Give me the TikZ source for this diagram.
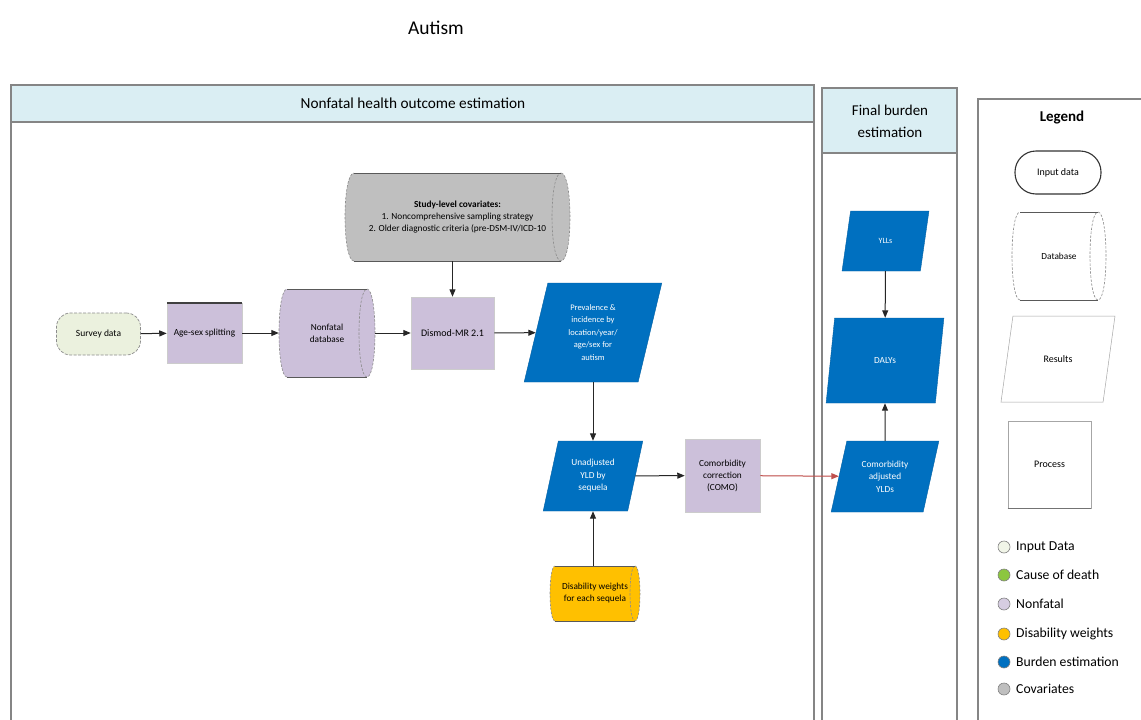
\documentclass[tikz,border=0pt]{standalone}
\usepackage{fontspec}
\setmainfont{Carlito}
\usetikzlibrary{shapes.geometric,arrows.meta}

\definecolor{hdrblue}{HTML}{DAEEF3}
\definecolor{framegray}{HTML}{858585}
\definecolor{inputgreen}{HTML}{EBF1DE}
\definecolor{nonfatal}{HTML}{CCC0DA}
\definecolor{covgray}{HTML}{BFBFBF}
\definecolor{burden}{HTML}{0070C0}
\definecolor{dwgold}{HTML}{FFC000}
\definecolor{codgreen}{HTML}{8CC63F}
\definecolor{linkred}{HTML}{C0504D}

\tikzset{
  frame/.style={draw=framegray, line width=1.1pt},
  hdr/.style={fill=hdrblue, draw=framegray, line width=1.1pt},
  flow/.style={-{Triangle[length=7.5pt,width=6pt]}, line width=1pt, draw=black!85},
  redflow/.style={-{Triangle[length=7.5pt,width=6pt]}, line width=1pt, draw=linkred, fill=linkred},
  procbox/.style={rectangle, fill=nonfatal, draw=black!20, line width=0.5pt,
    align=center, inner sep=1pt, font=\fontsize{9.3}{12}\selectfont},
  inputbox/.style={rectangle, rounded corners=14pt, fill=inputgreen,
    draw=black!45, dash pattern=on 3pt off 1.5pt, line width=0.7pt,
    align=center, font=\fontsize{9.5}{12}\selectfont},
  resbox/.style={trapezium, trapezium stretches=true, fill=burden,
    draw=burden!85!black, line width=0.4pt, text=white, align=center,
    inner sep=0pt, font=\fontsize{9.3}{12.5}\selectfont},
  cylside/.style={draw=black!45, dash pattern=on 2.5pt off 1.5pt, line width=0.6pt},
  cyledge/.style={draw=black!65, line width=0.9pt},
  cyltext/.style={rectangle, inner sep=0pt, align=center, font=\fontsize{9.3}{12}\selectfont},
  legdot/.style={circle, minimum size=12pt, inner sep=0pt, draw=black!50, line width=0.6pt},
  legtext/.style={anchor=west, inner sep=0pt, font=\fontsize{13.7}{15}\selectfont}
}

% horizontal cylinder: name, cx, cy, half width, half height, end radius, fill, text
\newcommand{\dbcyl}[8]{%
  \path[fill=#7] ({#2-#4+#6},{#3-#5}) -- ({#2+#4-#6},{#3-#5})
    .. controls ({#2+#4+0.333*#6},{#3-#5}) and ({#2+#4+0.333*#6},{#3+#5}) .. ({#2+#4-#6},{#3+#5})
    -- ({#2-#4+#6},{#3+#5})
    .. controls ({#2-#4-0.333*#6},{#3+#5}) and ({#2-#4-0.333*#6},{#3-#5}) .. cycle;
  \draw[cylside] ({#2-#4+#6},{#3+#5})
    .. controls ({#2-#4-0.333*#6},{#3+#5}) and ({#2-#4-0.333*#6},{#3-#5}) .. ({#2-#4+#6},{#3-#5});
  \draw[cylside] ({#2+#4-#6},{#3-#5})
    .. controls ({#2+#4+0.333*#6},{#3-#5}) and ({#2+#4+0.333*#6},{#3+#5}) .. ({#2+#4-#6},{#3+#5})
    .. controls ({#2+#4-2.333*#6},{#3+#5}) and ({#2+#4-2.333*#6},{#3-#5}) .. cycle;
  \draw[cyledge] ({#2-#4+#6},{#3-#5}) -- ({#2+#4-#6},{#3-#5})
                 ({#2-#4+#6},{#3+#5}) -- ({#2+#4-#6},{#3+#5});
  \node[cyltext, minimum width={2*#4}, minimum height={2*#5}] (#1) at (#2,#3) {#8};
}

\begin{document}
\begin{tikzpicture}[x=1pt,y=-1pt]
\useasboundingbox (0,0) rectangle (1141,720);
\clip (0,0) rectangle (1141,720);
\fill[white] (0,0) rectangle (1141,720);

% title
\node[font=\fontsize{19.5}{22}\selectfont] (title) at (436,28) {Autism};

% panel frames
\draw[frame] (11,122) rectangle (814,730);
\draw[hdr] (11,85) rectangle (814,122);
\node[font=\fontsize{15.3}{18}\selectfont] (hdrmain) at (413,103) {Nonfatal health outcome estimation};

\draw[frame] (822,153) rectangle (957,730);
\draw[hdr] (822,88) rectangle (957,153);
\node[font=\fontsize{15}{22}\selectfont, align=center] (hdrfinal) at (890,121) {Final burden\\estimation};

\draw[frame] (978,99) rectangle (1160,730);
\node[font=\bfseries\fontsize{15}{18}\selectfont] (legtitle) at (1062,118) {Legend};

% input and processing chain
\node[inputbox, minimum width=84pt, minimum height=42pt] (survey) at (98.5,334) {Survey data};
\node[procbox, minimum width=75pt, minimum height=60pt] (agesex) at (204.5,333) {Age-sex splitting};
\draw[black!75, line width=1.6pt] (agesex.north west) -- (agesex.north east);
\dbcyl{nfdb}{327}{333}{48}{44}{8}{nonfatal}{Nonfatal\\database}
\node[procbox, minimum width=83pt, minimum height=72pt, font=\fontsize{10}{12}\selectfont] (dismod) at (452.5,333) {Dismod-MR 2.1};
\dbcyl{cov}{457.5}{217}{112.5}{44}{9}{covgray}{\textbf{Study-level covariates:}\\1. Noncomprehensive sampling strategy\\2. Older diagnostic criteria (pre-DSM-IV/ICD-10}

\node[resbox, trapezium left angle=77, trapezium right angle=103,
  minimum width=138pt, minimum height=99pt, font=\fontsize{8.5}{12.5}\selectfont] (prev) at (593,332.5)
  {Prevalence \&\\incidence by\\location/year/\\age/sex for\\autism};
\node[resbox, trapezium left angle=74, trapezium right angle=106,
  minimum width=100pt, minimum height=70pt] (unadj) at (593,476) {Unadjusted\\YLD by\\sequela};
\node[procbox, minimum width=75pt, minimum height=73pt] (como) at (722.5,475.5) {Comorbidity\\correction\\(COMO)};
\dbcyl{dw}{595}{593.5}{45}{27.5}{5}{dwgold}{Disability weights\\for each sequela}

% final burden
\node[resbox, trapezium left angle=72, trapezium right angle=108,
  minimum width=87pt, minimum height=60pt, font=\fontsize{8}{12}\selectfont] (ylls) at (885.5,241) {YLLs};
\node[resbox, trapezium left angle=73, trapezium right angle=107,
  minimum width=118pt, minimum height=85pt] (dalys) at (885,360.5) {DALYs};
\node[resbox, trapezium left angle=73, trapezium right angle=107,
  minimum width=108pt, minimum height=71pt] (cadj) at (885,476.5) {Comorbidity\\adjusted\\YLDs};

% connectors
\draw[flow] (survey) -- (agesex);
\draw[flow] (agesex) -- (nfdb);
\draw[flow] (nfdb) -- (dismod);
\draw[flow] (cov.south -| dismod.north) -- (dismod.north);
\draw[flow] (dismod) -- (prev);
\draw[flow] (prev.south -| unadj.north) -- (unadj.north);
\draw[flow] (unadj) -- (como);
\draw[flow] (dw.north -| unadj.south) -- (unadj.south);
\draw[redflow] (como) -- (cadj);
\draw[flow] (ylls) -- (dalys);
\draw[flow] (cadj) -- (dalys);

% legend shapes
\node[rectangle, rounded corners=21pt, draw=black!80, line width=1.1pt, fill=white,
  minimum width=86pt, minimum height=43pt, font=\fontsize{10}{12}\selectfont] (leginput) at (1058,172.5) {Input data};
\dbcyl{legdb}{1059}{256}{47}{44}{8}{white}{Database}
\node[trapezium, trapezium stretches=true, trapezium left angle=71, trapezium right angle=109,
  draw=black!35, line width=0.5pt, fill=white, minimum width=114pt, minimum height=86pt,
  font=\fontsize{10}{12}\selectfont] (legres) at (1058,359) {Results};
\node[rectangle, draw=black!35, line width=0.6pt, fill=white, minimum width=83pt, minimum height=87pt,
  font=\fontsize{10}{12}\selectfont] (legproc) at (1049.5,464.5) {Process};
\draw[black!55, line width=1pt] (legproc.south west) -- (legproc.south east);

% legend colour key
\node[legdot, fill=inputgreen!70] (k1) at (1004,547) {};
\node[legtext] (t1) at (1016,547) {Input Data};
\node[legdot, fill=codgreen] (k2) at (1004,575) {};
\node[legtext] (t2) at (1016,575) {Cause of death};
\node[legdot, fill=nonfatal!80] (k3) at (1004,604) {};
\node[legtext] (t3) at (1016,604) {Nonfatal};
\node[legdot, fill=dwgold] (k4) at (1004,634) {};
\node[legtext] (t4) at (1016,634) {Disability weights};
\node[legdot, fill=burden] (k5) at (1004,662) {};
\node[legtext] (t5) at (1016,662) {Burden estimation};
\node[legdot, fill=covgray] (k6) at (1004,689) {};
\node[legtext] (t6) at (1016,689) {Covariates};
\end{tikzpicture}
\end{document}
